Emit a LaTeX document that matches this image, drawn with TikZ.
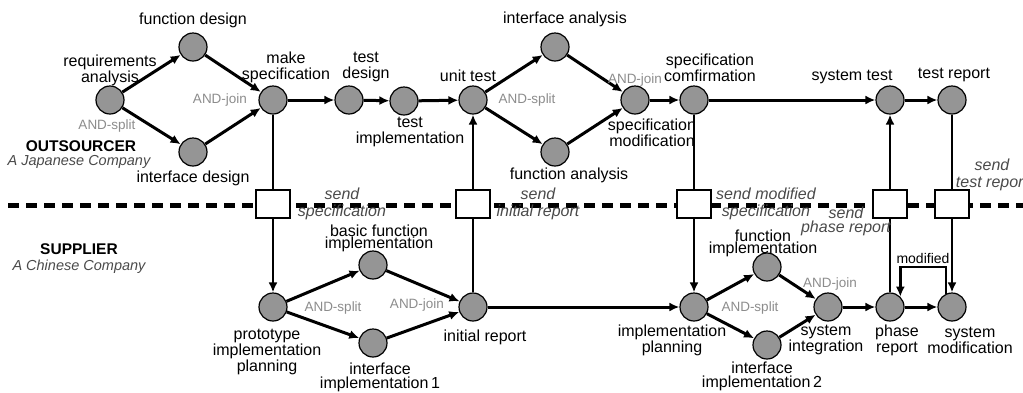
\documentclass[tikz,border=0pt]{standalone}
\usepackage{fontspec}
\setmainfont{Liberation Sans}
\usetikzlibrary{arrows.meta}
\definecolor{nodegray}{HTML}{959595}
\definecolor{andgray}{HTML}{8C8C8C}
\definecolor{sendgray}{HTML}{4A4A4A}
\begin{document}
\begin{tikzpicture}[x=1pt,y=-1pt,
 st/.style={circle,draw,line width=1.2pt,fill=nodegray,minimum size=28pt,inner sep=0pt},
 bx/.style={rectangle,draw,line width=1.2pt,fill=white,minimum width=34pt,minimum height=28pt,inner sep=0pt},
 lbl/.style={font=\fontsize{16}{16}\selectfont,align=center,inner sep=0pt},
 tightlbl/.style={font=\fontsize{16}{12}\selectfont,align=center,inner sep=0pt},
 andl/.style={font=\fontsize{13.5}{14}\selectfont,text=andgray,inner sep=0pt},
 sendl/.style={font=\fontsize{16}{17}\selectfont\itshape,text=sendgray,align=center,inner sep=0pt},
 companyl/.style={font=\fontsize{14.5}{15}\selectfont\itshape,text=sendgray,inner sep=0pt},
 partyl/.style={font=\fontsize{15.5}{16}\selectfont\bfseries,inner sep=0pt},
 arr/.style={line width=3pt,-{Latex[length=10pt,width=9pt]}},
 ln/.style={line width=2.6pt},
 varr/.style={line width=2.6pt,-{Latex[length=10pt,width=9pt]}},
 divider/.style={line width=5pt,dash pattern=on 11pt off 7pt},
]
\useasboundingbox (0,0) rectangle (1023,392);

% divider
\coordinate (dl) at (8,205);
\coordinate (dr) at (1023,205);
\draw[divider] (dl) -- (dr);

% top row (outsourcer)
\node[st] (req) at (110,100) {};
\node[st] (fdes) at (193,47) {};
\node[st] (ides) at (193,152) {};
\node[st] (mspec) at (273,100) {};
\node[st] (tdes) at (349,100) {};
\node[st] (timp) at (404,101) {};
\node[st] (utest) at (473,100) {};
\node[st] (iana) at (555,47) {};
\node[st] (fana) at (555,152) {};
\node[st] (smod) at (635,100) {};
\node[st] (sconf) at (694,100) {};
\node[st] (stest) at (890,100) {};
\node[st] (trep) at (952,100) {};

% boxes
\node[bx] (b1) at (273,204) {};
\node[bx] (b2) at (473,204) {};
\node[bx] (b3) at (694,204) {};
\node[bx] (b4) at (890,204) {};
\node[bx] (b5) at (952,204) {};

% bottom row (supplier)
\node[st] (proto) at (273,307) {};
\node[st] (bfimp) at (373,265) {};
\node[st] (iimp1) at (373,343) {};
\node[st] (irep) at (473,307) {};
\node[st] (iplan) at (694,307) {};
\node[st] (fimp) at (767,267) {};
\node[st] (iimp2) at (767,345) {};
\node[st] (sint) at (828,307) {};
\node[st] (prep) at (890,307) {};
\node[st] (smodif) at (952,307) {};

% top edges
\draw[arr] (req) -- (fdes);
\draw[arr] (req) -- (ides);
\draw[arr] (fdes) -- (mspec);
\draw[arr] (ides) -- (mspec);
\draw[arr] (mspec) -- (tdes);
\draw[arr] (tdes) -- (timp);
\draw[arr] (timp) -- (utest);
\draw[arr] (utest) -- (iana);
\draw[arr] (utest) -- (fana);
\draw[arr] (iana) -- (smod);
\draw[arr] (fana) -- (smod);
\draw[arr] (smod) -- (sconf);
\draw[arr] (sconf) -- (stest);
\draw[arr] (stest) -- (trep);

% vertical edges
\draw[ln] (mspec) -- (b1);
\draw[varr] (b1) -- (proto);
\draw[ln] (irep) -- (b2);
\draw[varr] (b2) -- (utest);
\draw[ln] (sconf) -- (b3);
\draw[varr] (b3) -- (iplan);
\draw[ln] (prep) -- (b4);
\draw[varr] (b4) -- (stest);
\draw[ln] (trep) -- (b5);
\draw[varr] (b5) -- (smodif);

% bottom edges
\draw[arr] (proto) -- (bfimp);
\draw[arr] (proto) -- (iimp1);
\draw[arr] (bfimp) -- (irep);
\draw[arr] (iimp1) -- (irep);
\draw[arr] (irep) -- (iplan);
\draw[arr] (iplan) -- (fimp);
\draw[arr] (iplan) -- (iimp2);
\draw[arr] (fimp) -- (sint);
\draw[arr] (iimp2) -- (sint);
\draw[arr] (sint) -- (prep);
\draw[arr] (prep) -- (smodif);

% modified loop
\coordinate (mtop) at (0,267);
\draw[line width=2.4pt,-{Latex[length=10pt,width=9pt]}] (smodif.115) -- (smodif.115 |- mtop) -| (prep.45);
\node[font=\fontsize{14}{14}\selectfont,inner sep=0pt] (modl) at (923,258) {modified};

% top labels
\node[lbl] (lreq) at (110,70) {requirements\\analysis};
\node[andl] (as1) at (107,126) {AND-split};
\node[lbl] (lfdes) at (193,20) {function design};
\node[lbl] (lides) at (193,178) {interface design};
\node[andl] (aj1) at (220,100) {AND-join};
\node[lbl] (lmspec) at (286,67) {make\\specification};
\node[lbl] (ltdes) at (366,67) {test\\design};
\node[lbl] (ltimp) at (410,132) {test\\implementation};
\node[lbl] (lutest) at (468,76) {unit test};
\node[andl] (as2) at (527,100) {AND-split};
\node[lbl] (liana) at (565,19) {interface analysis};
\node[lbl] (lfana) at (569,175) {function analysis};
\node[andl] (aj2) at (635,80) {AND-join};
\node[lbl] (lsconf) at (710,68) {specification\\comfirmation};
\node[lbl] (lsmod) at (652,133) {specification\\modification};
\node[lbl] (lstest) at (852,77) {system test};
\node[lbl] (ltrep) at (954,75) {test report};

% party labels
\node[partyl] (pout) at (81,146) {OUTSOURCER};
\node[companyl] (cout) at (79,162) {A Japanese Company};
\node[partyl] (psup) at (79,249) {SUPPLIER};
\node[companyl] (csup) at (79,267) {A Chinese Company};

% send labels
\node[sendl] (s1) at (342,204) {send\\specification};
\node[sendl] (s2) at (538,204) {send\\initial report};
\node[sendl] (s3) at (766,204) {send modified\\specification};
\node[sendl,font=\fontsize{16}{14}\selectfont\itshape] (s4) at (846,221) {send\\phase report};
\node[sendl] (s5) at (992,175) {send\\test report};

% bottom labels
\node[tightlbl] (lbf) at (379,238) {basic function\\implementation};
\node[andl] (as3) at (333,308) {AND-split};
\node[andl] (aj3) at (417,305) {AND-join};
\node[font=\fontsize{16}{14}\selectfont,align=center,inner sep=0pt] (li1) at (380,377) {interface\\implementation\,1};
\node[lbl] (lirep) at (485,337) {initial report};
\node[lbl] (lproto) at (267,352) {prototype\\implementation\\planning};
\node[lbl] (liplan) at (672,340) {implementation\\planning};
\node[tightlbl] (lfimp) at (763,243) {function\\implementation};
\node[andl] (as4) at (750,308) {AND-split};
\node[andl] (aj4) at (830,284) {AND-join};
\node[lbl] (lsint) at (826,340) {system\\integration};
\node[font=\fontsize{16}{14}\selectfont,align=center,inner sep=0pt] (li2) at (762,376) {interface\\implementation\,2};
\node[lbl] (lprep) at (897,340) {phase\\report};
\node[lbl] (lsmodif) at (970,340) {system\\modification};
\end{tikzpicture}
\end{document}
